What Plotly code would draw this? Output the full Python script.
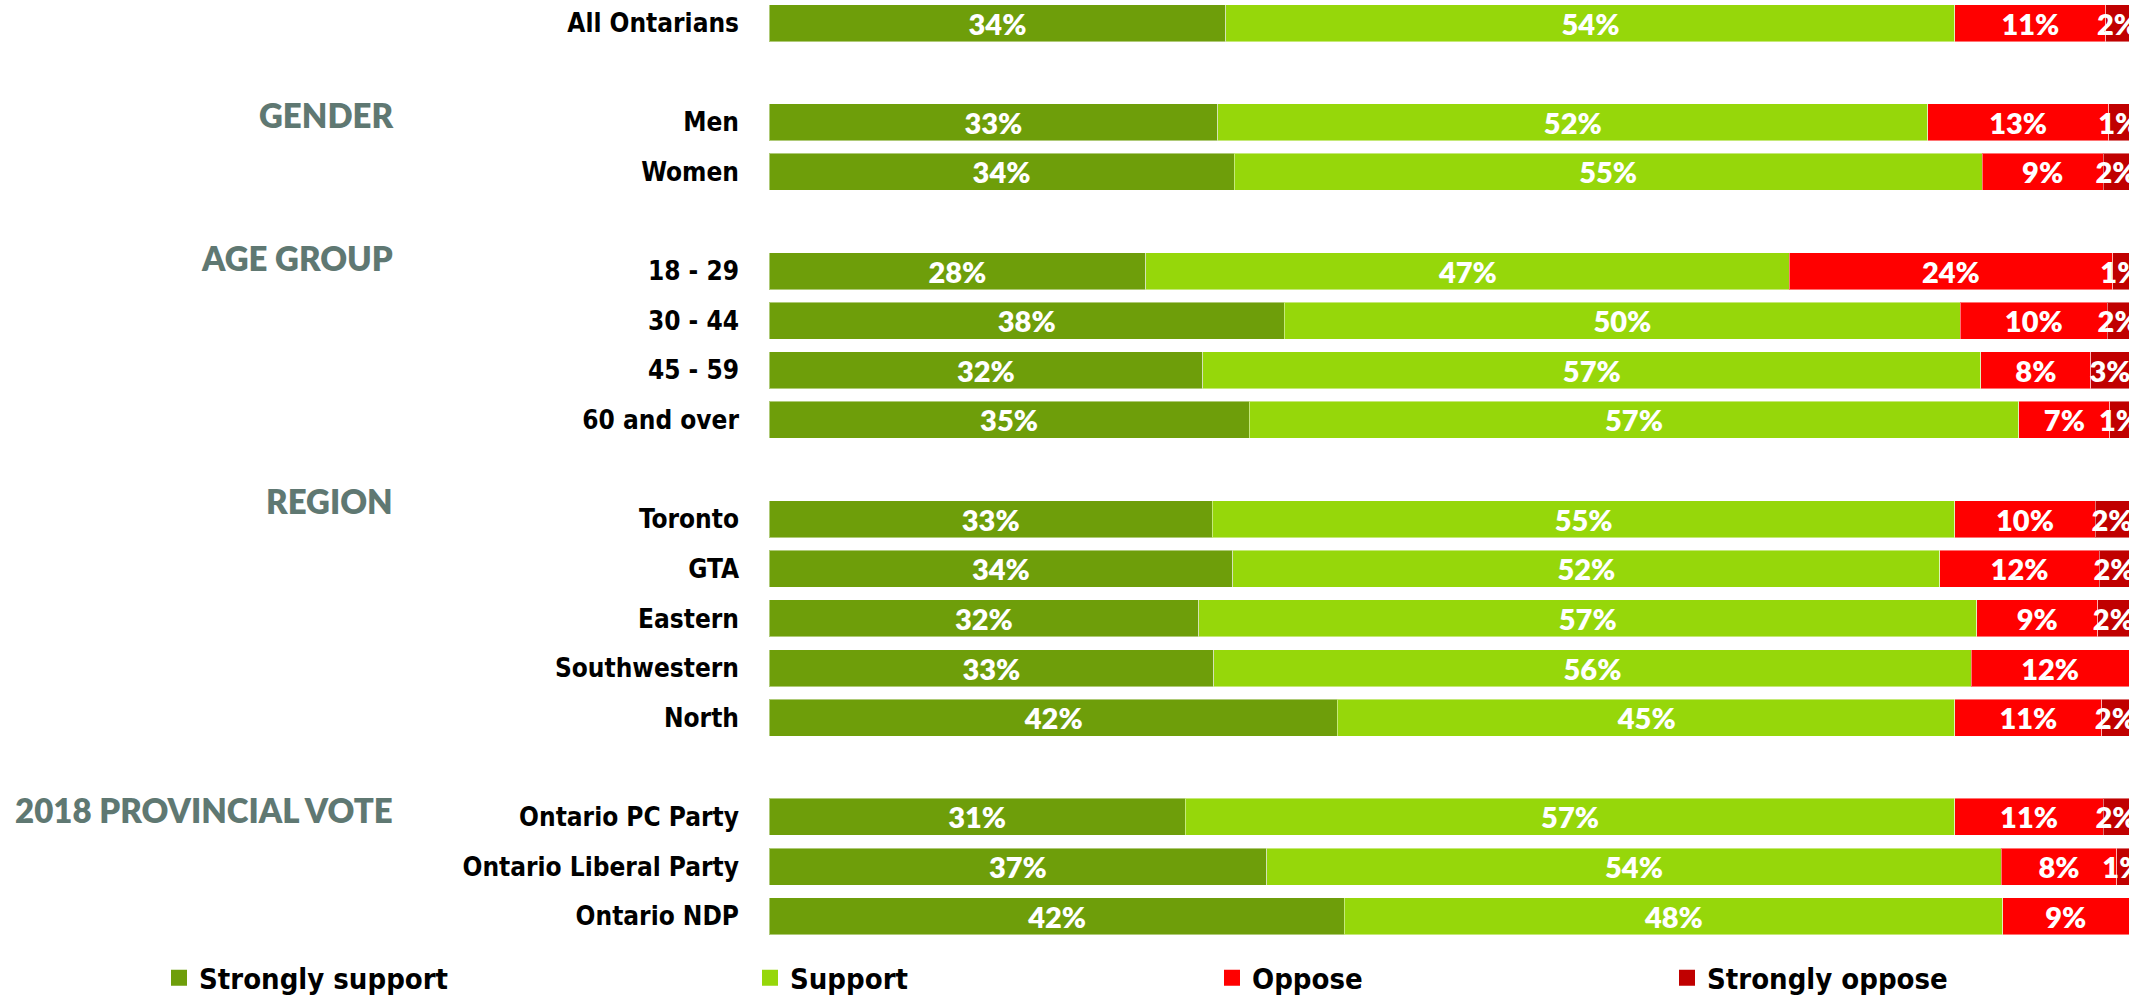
import plotly.graph_objects as go

# ---- data ----
groups = [None, "GENDER", "AGE GROUP", "REGION", "2018 PROVINCIAL VOTE"]
group_rows = [
    ["All Ontarians"],
    ["Men", "Women"],
    ["18 - 29", "30 - 44", "45 - 59", "60 and over"],
    ["Toronto", "GTA", "Eastern", "Southwestern", "North"],
    ["Ontario PC Party", "Ontario Liberal Party", "Ontario NDP"],
]
series_names = ["Strongly support", "Support", "Oppose", "Strongly oppose"]

# printed labels (rounded %)
lbl_strongly_support = [34, 33, 34, 28, 38, 32, 35, 33, 34, 32, 33, 42, 31, 37, 42]
lbl_support = [54, 52, 55, 47, 50, 57, 57, 55, 52, 57, 56, 45, 57, 54, 48]
lbl_oppose = [11, 13, 9, 24, 10, 8, 7, 10, 12, 9, 12, 11, 11, 8, 9]
lbl_strongly_oppose = [2, 1, 2, 1, 2, 3, 1, 2, 2, 2, None, 2, 2, 1, None]

# segment shares as drawn (%)
strongly_support = [33.6, 33.0, 34.2, 27.7, 37.9, 31.9, 35.3, 32.6, 34.1, 31.6, 32.7, 41.8, 30.6, 36.6, 42.3]
support = [53.6, 52.2, 55.0, 47.3, 49.7, 57.2, 56.6, 54.6, 52.0, 57.2, 55.7, 45.4, 56.6, 54.0, 48.4]
oppose = [11.1, 13.3, 8.9, 23.8, 10.8, 8.1, 6.7, 10.3, 11.7, 8.9, 11.6, 10.8, 10.9, 8.5, 9.3]
strongly_oppose = [1.7, 1.5, 1.9, 1.2, 1.6, 2.8, 1.4, 2.5, 2.2, 2.3, 0.0, 2.0, 1.9, 0.9, 0.0]

colors = ["#6e9e0a", "#96d70a", "#ff0000", "#c00000"]

# build category list with blank spacer slots between groups
y_cats = []
real_rows = []
for gi, rows in enumerate(group_rows):
    if gi > 0:
        y_cats.append(" " * gi)  # spacer slot
    for r in rows:
        y_cats.append(r)
        real_rows.append(r)

def expand(vals):
    m = dict(zip(real_rows, vals))
    return [m.get(c) for c in y_cats]

series_vals = [strongly_support, support, oppose, strongly_oppose]
series_lbls = [lbl_strongly_support, lbl_support, lbl_oppose, lbl_strongly_oppose]

LABEL_FONT = "Liberation Sans Narrow, DejaVu Sans Condensed, Arial Narrow, sans-serif"
NUM_FONT = "Lato, Open Sans, sans-serif"

fig = go.Figure()
for name, vals, lbls, col in zip(series_names, series_vals, series_lbls, colors):
    ev = expand(vals)
    el = expand(lbls)
    fig.add_trace(go.Bar(
        y=y_cats, x=ev, name=name, orientation="h",
        marker=dict(color=col, line=dict(color="rgba(255,255,255,0.45)", width=1)),
        text=[f"{v}%" if v else "" for v in el],
        textposition="inside", insidetextanchor="middle", textangle=0,
        constraintext="none",
        textfont=dict(family=NUM_FONT, size=29, color="white", weight=800),
        showlegend=False, hoverinfo="skip",
    ))

# legend proxies (one legend each, to place them like the original)
legend_x = [159, 750, 1212, 1667]
for i, (name, col) in enumerate(zip(series_names, colors)):
    lg = "legend" if i == 0 else f"legend{i+1}"
    fig.add_trace(go.Scatter(
        x=[None], y=[None], mode="markers", name=name,
        marker=dict(symbol="square", size=16, color=col),
        showlegend=True, legend=lg,
    ))

legend_style = dict(
    orientation="h", xref="container", yref="container",
    xanchor="left", yanchor="middle", y=1 - 978 / 997,
    font=dict(family=LABEL_FONT, size=29, color="black", weight="bold"),
    bgcolor="rgba(0,0,0,0)", itemclick=False, itemdoubleclick=False,
)
legends = {}
for i in range(4):
    key = "legend" if i == 0 else f"legend{i+1}"
    legends[key] = dict(legend_style, x=legend_x[i] / 2151)

# group header annotations
header_shift = [0, 7, 13, 18, 7]
annotations = []
for gi, g in enumerate(groups):
    if g is None:
        continue
    annotations.append(dict(
        text=g, xref="paper", x=(395 - 769) / 1360, xanchor="right",
        yref="y", y=group_rows[gi][0], yshift=header_shift[gi], yanchor="middle",
        showarrow=False,
        font=dict(family=NUM_FONT, size=33, color="#5f7872", weight=800),
    ))

fig.update_layout(
    width=2151, height=997,
    barmode="stack", barnorm="percent", bargap=0.254,
    margin=dict(l=769, r=22, t=0, b=56.4, pad=0),
    paper_bgcolor="white", plot_bgcolor="white",
    xaxis=dict(range=[0, 100], visible=False, fixedrange=True),
    yaxis=dict(
        type="category", categoryorder="array", categoryarray=y_cats,
        range=[18.5, -23 / 49.6], showgrid=False, zeroline=False,
        showline=False, ticks="", ticklabelstandoff=29,
        tickfont=dict(family=LABEL_FONT, size=26, color="black", weight="bold"),
        fixedrange=True,
    ),
    annotations=annotations,
    **legends,
)

fig.write_html("out.html")
